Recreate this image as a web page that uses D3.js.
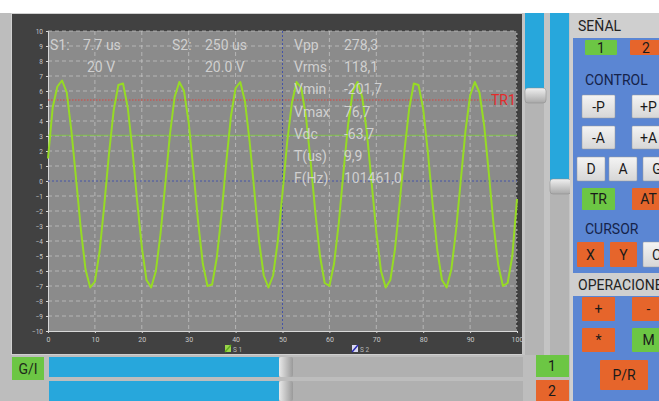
<!DOCTYPE html>
<html>
<head>
<meta charset="utf-8">
<script src="https://cdn.jsdelivr.net/npm/d3@7"></script>
<style>
  body { margin: 0; background: #ffffff; }
  svg { display: block; font-family: Roboto, "Noto Sans", sans-serif; }
</style>
</head>
<body>
<div id="scope"></div>
<script>
// Oscilloscope screen

// wave samples, one per x unit (0..100)
const waveS1 = [1.5, 4.9, 6.3, 6.7, 5.9, 3.3, 0.1, -3.2, -5.9, -7.1, -6.7, -4.7, -1.6, 1.8, 4.7, 6.4, 6.5, 4.9, 2.1, -1.3,
  -4.4, -6.6, -7.1, -6.0, -3.5, -0.2, 3.1, 5.6, 6.6, 6.0, 3.9, 0.7, -2.7, -5.5, -7.0, -6.9, -5.1, -2.2, 1.2, 4.3,
  6.2, 6.6, 5.3, 2.6, -0.7, -4.0, -6.3, -7.1, -6.3, -4.0, -0.8, 2.6, 5.2, 6.6, 6.2, 4.3, 1.3, -2.1, -5.0, -6.8,
  -7.0, -5.5, -2.8, 0.6, 3.8, 6.0, 6.6, 5.6, 3.2, -0.1, -3.4, -6.0, -7.1, -6.6, -4.5, -1.4, 2.0, 4.8, 6.5, 6.4,
  4.8, 1.9, -1.5, -4.6, -6.6, -7.1, -5.9, -3.3, 0.0, 3.3, 5.7, 6.6, 5.9, 3.7, 0.5, -2.9, -5.6, -7.0, -6.8, -5.0, -1.2];

const xTicks = [0, 10, 20, 30, 40, 50, 60, 70, 80, 90, 100];
const yTicks = d3.range(-10, 11);
const triggerLevel = 5.4;
const greenLevel = 3.05;
const cursorX = 50;
const cursorY = 0;

const scaleLabels = [["S1:", "7.7 us", "20 V"], ["S2:", "250 us", "20.0 V"]];
const measNames = ["Vpp", "Vrms", "Vmin", "Vmax", "Vdc", "T(us)", "F(Hz)"];
const measValues = ["278,3", "118,1", "-201,7", "76,7", "-63,7", "9,9", "101461,0"];
const legendNames = ["S 1", "S 2"];

// right panel buttons
const senalBtns = [["1", "green"], ["2", "orange"]];
const controlRows = [[["-P", "white"], ["+P", "white"]], [["-A", "white"], ["+A", "white"]]];
const modeBtns = [["D", "white"], ["A", "white"], ["G", "white"]];
const trigBtns = [["TR", "green"], ["AT", "orange"]];
const cursorBtns = [["X", "orange"], ["Y", "orange"], ["C", "white"]];
const operRows = [[["+", "orange"], ["-", "orange"]], [["*", "orange"], ["M", "green"]]];

const W = 659, H = 401;
const cGreen = "#6cc644", cOrange = "#e6652b", cPanel = "#5b86d3", cSlider = "#27a7dc";
const fills = {green: cGreen, orange: cOrange, white: "url(#btnGrad)"};

const svg = d3.select("#scope").append("svg").attr("width", W).attr("height", H);

const defs = svg.append("defs");
const bg = defs.append("linearGradient").attr("id", "btnGrad").attr("x1", 0).attr("y1", 0).attr("x2", 0).attr("y2", 1);
bg.append("stop").attr("offset", "0%").attr("stop-color", "#f4f4f4");
bg.append("stop").attr("offset", "100%").attr("stop-color", "#d6d6d6");
const tg = defs.append("linearGradient").attr("id", "thumbGrad").attr("x1", 0).attr("y1", 0).attr("x2", 0).attr("y2", 1);
tg.append("stop").attr("offset", "0%").attr("stop-color", "#f0f0f0");
tg.append("stop").attr("offset", "100%").attr("stop-color", "#a8a8a8");
const thg = defs.append("linearGradient").attr("id", "thumbGradH").attr("x1", 0).attr("y1", 0).attr("x2", 1).attr("y2", 0);
thg.append("stop").attr("offset", "0%").attr("stop-color", "#e8e8e8");
thg.append("stop").attr("offset", "100%").attr("stop-color", "#9a9a9a");

// page background
svg.append("rect").attr("x", 0).attr("y", 13).attr("width", W).attr("height", H - 13).attr("fill", "#bdbdbd");

// dark scope frame
svg.append("rect").attr("x", 11).attr("y", 13).attr("width", 512).attr("height", 342).attr("fill", "#d0d0d0");
svg.append("rect").attr("x", 12).attr("y", 14).attr("width", 510).attr("height", 340).attr("fill", "#414141");

const x = d3.scaleLinear().domain([0, 100]).range([48, 517]);
const y = d3.scaleLinear().domain([-10, 10]).range([331, 31]);

svg.append("rect")
    .attr("x", x(0)).attr("y", y(10))
    .attr("width", x(100) - x(0)).attr("height", y(-10) - y(10))
    .attr("fill", "#8b8b8b");

// grid
svg.append("g").selectAll("line").data(yTicks.filter(d => d > -10 && d !== 0)).enter().append("line")
    .attr("x1", x(0)).attr("x2", x(100))
    .attr("y1", d => y(d)).attr("y2", d => y(d))
    .attr("stroke", "#c9c9c9").attr("stroke-width", 1).attr("stroke-dasharray", "4,3").attr("opacity", 0.7);
svg.append("g").selectAll("line").data(xTicks.filter(d => d > 0 && d !== cursorX)).enter().append("line")
    .attr("x1", d => x(d)).attr("x2", d => x(d))
    .attr("y1", y(10)).attr("y2", y(-10))
    .attr("stroke", "#c9c9c9").attr("stroke-width", 1).attr("stroke-dasharray", "4,3").attr("opacity", 0.7);

// right dark border of plot
svg.append("line").attr("x1", x(100)).attr("x2", x(100)).attr("y1", y(10)).attr("y2", y(-10))
    .attr("stroke", "#333").attr("stroke-width", 1.5).attr("stroke-dasharray", "2,2");

// axes
const yAxis = svg.append("g").attr("transform", `translate(${x(0)},0)`)
    .call(d3.axisLeft(y).tickValues(yTicks).tickSize(2).tickFormat(d3.format("d")));
const xAxis = svg.append("g").attr("transform", `translate(0,${y(-10)})`)
    .call(d3.axisBottom(x).tickValues(xTicks).tickSize(2).tickFormat(d3.format("d")));
[yAxis, xAxis].forEach(a => {
    a.selectAll("path, line").attr("stroke", "#d8d8d8");
    a.selectAll("text").attr("fill", "#c8c8c8").attr("font-size", 6.5).attr("font-family", "Roboto, sans-serif");
});
xAxis.selectAll("text").attr("font-size", 7).attr("dy", "0.9em");

// reference lines
svg.append("line").attr("x1", x(0)).attr("x2", x(95)).attr("y1", y(triggerLevel)).attr("y2", y(triggerLevel))
    .attr("stroke", "#e0403a").attr("stroke-width", 1).attr("stroke-dasharray", "1.5,1.5");
svg.append("line").attr("x1", x(0)).attr("x2", x(100)).attr("y1", y(greenLevel)).attr("y2", y(greenLevel))
    .attr("stroke", "#7fcf3a").attr("stroke-width", 1).attr("opacity", 0.8);
svg.append("line").attr("x1", x(0)).attr("x2", x(100)).attr("y1", y(cursorY)).attr("y2", y(cursorY))
    .attr("stroke", "#4454a8").attr("stroke-width", 1).attr("stroke-dasharray", "2,2");
svg.append("line").attr("x1", x(cursorX)).attr("x2", x(cursorX)).attr("y1", y(10)).attr("y2", y(-10))
    .attr("stroke", "#4454a8").attr("stroke-width", 1).attr("stroke-dasharray", "2,2");

// wave
const line = d3.line().x((d, i) => x(i)).y(d => y(d));
svg.append("path").datum(waveS1)
    .attr("d", line)
    .attr("fill", "none").attr("stroke", "#96db24").attr("stroke-width", 2).attr("stroke-linejoin", "round");

// overlay texts
const txtCol = "#dcdcdc";
const scaleG = svg.append("g").attr("fill", txtCol).attr("font-size", 14).attr("opacity", 0.85);
scaleLabels.forEach((s, i) => {
    const x0 = 50 + i * 122;
    scaleG.append("text").attr("x", x0).attr("y", 50).text(s[0]);
    scaleG.append("text").attr("x", x0 + 33).attr("y", 50).text(s[1]);
    scaleG.append("text").attr("x", x0 + 37 - i * 4).attr("y", 72).text(s[2]);
});
const measG = svg.append("g").attr("fill", txtCol).attr("font-size", 14).attr("opacity", 0.85);
measG.selectAll(".mn").data(measNames).enter().append("text")
    .attr("x", 294).attr("y", (d, i) => 50 + i * 22.2).text(d => d);
measG.selectAll(".mv").data(measValues).enter().append("text")
    .attr("x", 344).attr("y", (d, i) => 50 + i * 22.2).text(d => d);

svg.append("text").attr("x", 491).attr("y", y(triggerLevel) + 5).attr("fill", "#e52a2a")
    .attr("font-size", 14).text("TR1");

// legend
const legG = svg.append("g").selectAll("g").data(legendNames).enter().append("g")
    .attr("transform", (d, i) => `translate(${225 + i * 127},345)`);
legG.append("rect").attr("width", 6).attr("height", 7).attr("fill", (d, i) => i === 0 ? "#9bd54a" : "#d8d8f0");
legG.append("line").attr("x1", 0).attr("y1", 7).attr("x2", 6).attr("y2", 0)
    .attr("stroke", (d, i) => i === 0 ? "#5fae1e" : "#2a2ab0").attr("stroke-width", 1.5);
legG.append("text").attr("x", 8).attr("y", 7).attr("font-size", 6.5).attr("fill", "#b8b8b8").text(d => d);

// vertical sliders
svg.append("rect").attr("x", 522).attr("y", 13).attr("width", 51).attr("height", 342).attr("fill", "#c4c4c4");
function vSlider(x0, w, thumbY) {
    svg.append("rect").attr("x", x0).attr("y", 13).attr("width", w).attr("height", 342).attr("fill", "#b4b4b4");
    svg.append("rect").attr("x", x0).attr("y", 13).attr("width", w).attr("height", thumbY - 13).attr("fill", cSlider);
    svg.append("rect").attr("x", x0).attr("y", thumbY - 8).attr("width", w + 2).attr("height", 15).attr("rx", 3)
        .attr("fill", "url(#thumbGrad)").attr("stroke", "#8a8a8a").attr("stroke-width", 0.5);
}
vSlider(525, 19, 96);
vSlider(550, 19, 187);

// bottom slider
svg.append("rect").attr("x", 12).attr("y", 357).attr("width", 32).attr("height", 23).attr("fill", cGreen);
svg.append("text").attr("x", 28).attr("y", 374).attr("text-anchor", "middle").attr("font-size", 14).attr("fill", "#1d2a1a").text("G/I");
[357, 381].forEach(y0 => {
    svg.append("rect").attr("x", 49).attr("y", y0).attr("width", 474).attr("height", 20).attr("fill", "#b0b0b0");
    svg.append("rect").attr("x", 49).attr("y", y0).attr("width", 230).attr("height", 20).attr("fill", cSlider);
    svg.append("rect").attr("x", 279).attr("y", y0).attr("width", 14).attr("height", 20).attr("rx", 2)
        .attr("fill", "url(#thumbGradH)");
});
[["1", cGreen], ["2", cOrange]].forEach((b, i) => {
    svg.append("rect").attr("x", 536).attr("y", 355 + i * 25).attr("width", 33).attr("height", 22).attr("fill", b[1]);
    svg.append("text").attr("x", 552).attr("y", 371 + i * 25).attr("text-anchor", "middle")
        .attr("font-size", 14).attr("fill", "#1a1a1a").text(b[0]);
});

// right control panel
svg.append("rect").attr("x", 570).attr("y", 13).attr("width", 89).attr("height", 388).attr("fill", "#cfcfcf");
svg.append("rect").attr("x", 573).attr("y", 38).attr("width", 86).attr("height", 235).attr("fill", cPanel);
svg.append("rect").attr("x", 573).attr("y", 296).attr("width", 86).attr("height", 105).attr("fill", cPanel);
svg.append("text").attr("x", 578).attr("y", 31).attr("font-size", 14).attr("fill", "#222").text("SEÑAL");
svg.append("text").attr("x", 578).attr("y", 290).attr("font-size", 14).attr("fill", "#222").text("OPERACIONES");
svg.append("text").attr("x", 585).attr("y", 85).attr("font-size", 14).attr("fill", "#15234a").text("CONTROL");
svg.append("text").attr("x", 585).attr("y", 234).attr("font-size", 14).attr("fill", "#15234a").text("CURSOR");

function btnRow(btns, y0, h, xs, w) {
    btns.forEach((b, i) => {
        svg.append("rect").attr("x", xs[i]).attr("y", y0).attr("width", w).attr("height", h).attr("rx", 1)
            .attr("fill", fills[b[1]]).attr("stroke", b[1] === "white" ? "#9a9a9a" : "none").attr("stroke-width", 0.5);
        svg.append("text").attr("x", xs[i] + w / 2).attr("y", y0 + h / 2 + 5).attr("text-anchor", "middle")
            .attr("font-size", 14).attr("fill", "#1a1a1a").text(b[0]);
    });
}
btnRow(senalBtns, 40, 15, [585, 630], 32);
controlRows.forEach((r, i) => btnRow(r, 95 + i * 31, 23, [582, 632], 33));
btnRow(modeBtns, 157, 24, [577, 609, 643], 28);
btnRow(trigBtns, 188, 22, [582, 632], 33);
btnRow(cursorBtns, 242, 25, [577, 610, 643], 27);
operRows.forEach((r, i) => btnRow(r, 297 + i * 31, 24, [582, 632], 33));
btnRow([["P/R", "orange"]], 360, 30, [600], 48);
</script>
</body>
</html>
